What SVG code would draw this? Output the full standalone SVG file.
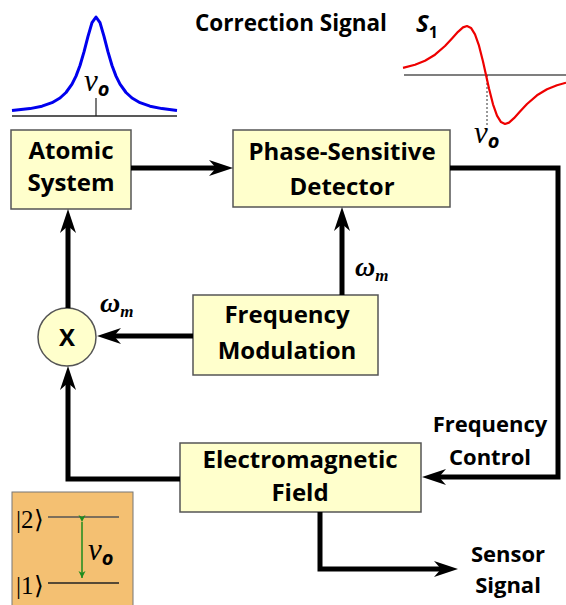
<svg xmlns="http://www.w3.org/2000/svg" width="566" height="605" viewBox="0 0 566 605">
<style>
.box{fill:#FFFFCC;stroke:#555;stroke-width:1.5}
.lbl{font-family:"Open Sans","Liberation Sans",sans-serif;font-weight:bold;font-size:24px;fill:#000;text-anchor:middle}
.out{font-family:"Open Sans","Liberation Sans",sans-serif;font-weight:bold;font-size:22px;fill:#000;text-anchor:middle}
.conn{fill:none;stroke:#000;stroke-width:5;stroke-linejoin:miter}
.math{font-family:"Liberation Serif","DejaVu Serif",serif;font-style:italic;fill:#000}
</style>
<defs>
<marker id="ah" markerUnits="userSpaceOnUse" viewBox="-12 -10 28 20" markerWidth="28" markerHeight="20" refX="0" refY="0" orient="auto">
<path d="M14,0 L-10,-8 L-3,0 L-10,8 Z" fill="#000"/>
</marker>
<marker id="gh" markerUnits="userSpaceOnUse" viewBox="-8 -5 10 10" markerWidth="10" markerHeight="10" refX="0" refY="0" orient="auto">
<path d="M0,0 L-7,-3.5 L-5,0 L-7,3.5 Z" fill="#1E8C1E"/>
</marker>
</defs>

<!-- Lorentzian -->
<g id="lorentzian">
<line x1="12" y1="116" x2="177" y2="116" stroke="#222" stroke-width="1.5"/>
<line x1="96" y1="98" x2="96" y2="116" stroke="#222" stroke-width="1.2"/>
<polyline fill="none" stroke="#0000EE" stroke-width="3" stroke-linejoin="round" points="12,110.6 30,108.6 42,106.2 52,102.7 60,98 66,92.5 72,84.2 76,76.1 80,65.5 84,51.9 88,36.4 92,22.7 96,17 100,22.7 104,36.4 108,51.9 112,65.5 116,76.1 120,84.2 126,92.5 132,98 140,102.7 150,106.2 162,108.6 177,110.4"/>
<text class="math" x="84" y="91" font-size="31">ν<tspan font-family="'Open Sans',sans-serif" font-size="20" font-weight="bold" dy="5">o</tspan></text>
</g>

<!-- Correction signal -->
<g id="correction">
<text x="195" y="31" font-family="'Open Sans','Liberation Sans',sans-serif" font-weight="bold" font-size="22.5">Correction Signal</text>
<text x="416" y="32" font-family="'Open Sans','Liberation Sans',sans-serif" font-weight="bold" font-style="italic" font-size="24">S<tspan font-style="normal" font-size="16" dy="6">1</tspan></text>
<line x1="404" y1="75" x2="566" y2="75" stroke="#555" stroke-width="1.5"/>
<line x1="487" y1="75" x2="487" y2="125" stroke="#333" stroke-width="1" stroke-dasharray="2,2"/>
<polyline fill="none" stroke="#EE0000" stroke-width="2.2" stroke-linejoin="round" points="403,67.9 415,64.8 425,60.7 435,54.7 445,46 452,38.5 458,31.8 463,27.4 467,26 471,27.9 475,34.3 479,45.7 483,61.5 486,75 489,88.5 493,104.3 497,115.7 501,122.1 505,124 509,122.6 514,118.2 520,111.5 527,104 537,95.3 547,89.3 557,85.2 566,82.7"/>
<text class="math" x="474" y="143" font-size="31">ν<tspan font-family="'Open Sans',sans-serif" font-size="20" font-weight="bold" dy="5">o</tspan></text>
</g>

<!-- Energy levels -->
<g id="levels">
<rect x="12" y="492" width="121" height="120" fill="#F4C072" stroke="#777" stroke-width="1"/>
<line x1="48" y1="517" x2="119" y2="517" stroke="#555" stroke-width="1.5"/>
<line x1="48" y1="583" x2="119" y2="583" stroke="#222" stroke-width="1.5"/>
<line x1="82" y1="522" x2="82" y2="578" stroke="#1E8C1E" stroke-width="1.5" marker-start="url(#gh)" marker-end="url(#gh)"/>
<text x="16" y="528" font-family="'Liberation Serif',serif" font-size="25">|2⟩</text>
<text x="16" y="594" font-family="'Liberation Serif',serif" font-size="25">|1⟩</text>
<text class="math" x="88" y="560" font-size="31">ν<tspan font-family="'Open Sans',sans-serif" font-size="20" font-weight="bold" dy="5">o</tspan></text>
</g>

<!-- Nodes -->
<g id="atomic">
<rect class="box" x="11" y="130" width="120" height="79"/>
<text class="lbl" x="71" y="159">Atomic</text>
<text class="lbl" x="71" y="191">System</text>
</g>
<g id="psd">
<rect class="box" x="233" y="130" width="217" height="77"/>
<text class="lbl" x="342" y="160">Phase-Sensitive</text>
<text class="lbl" x="342" y="195">Detector</text>
</g>
<g id="fm">
<rect class="box" x="193" y="295" width="185" height="80"/>
<text class="lbl" x="287" y="323">Frequency</text>
<text class="lbl" x="287" y="359">Modulation</text>
</g>
<g id="em">
<rect class="box" x="180" y="443" width="241" height="69"/>
<text class="lbl" x="300" y="468">Electromagnetic</text>
<text class="lbl" x="300" y="501">Field</text>
</g>
<g id="mixer">
<circle cx="67" cy="337" r="29" fill="#FFFFCC" stroke="#555" stroke-width="1.5"/>
<text class="lbl" x="67" y="346">X</text>
</g>

<!-- Connectors -->
<g id="connectors">
<line class="conn" x1="131" y1="168" x2="219" y2="168" marker-end="url(#ah)"/>
<path class="conn" d="M450,168 H558 V477 H436" marker-end="url(#ah)"/>
<path class="conn" d="M320,512 V569 H444" marker-end="url(#ah)"/>
<path class="conn" d="M342,295 V221" marker-end="url(#ah)"/>
<path class="conn" d="M193,336 H111" marker-end="url(#ah)"/>
<path class="conn" d="M68,308 V223" marker-end="url(#ah)"/>
<path class="conn" d="M180,479 H68 V380" marker-end="url(#ah)"/>
</g>

<!-- Labels -->
<g id="labels">
<text class="math" x="355" y="276" font-size="28" font-weight="bold">ω<tspan font-size="17" dy="5">m</tspan></text>
<text class="math" x="100" y="312" font-size="28" font-weight="bold">ω<tspan font-size="17" dy="5">m</tspan></text>
<text class="out" x="490" y="432">Frequency</text>
<text class="out" x="490" y="465">Control</text>
<text class="out" x="508" y="562">Sensor</text>
<text class="out" x="508" y="593">Signal</text>
</g>
</svg>
